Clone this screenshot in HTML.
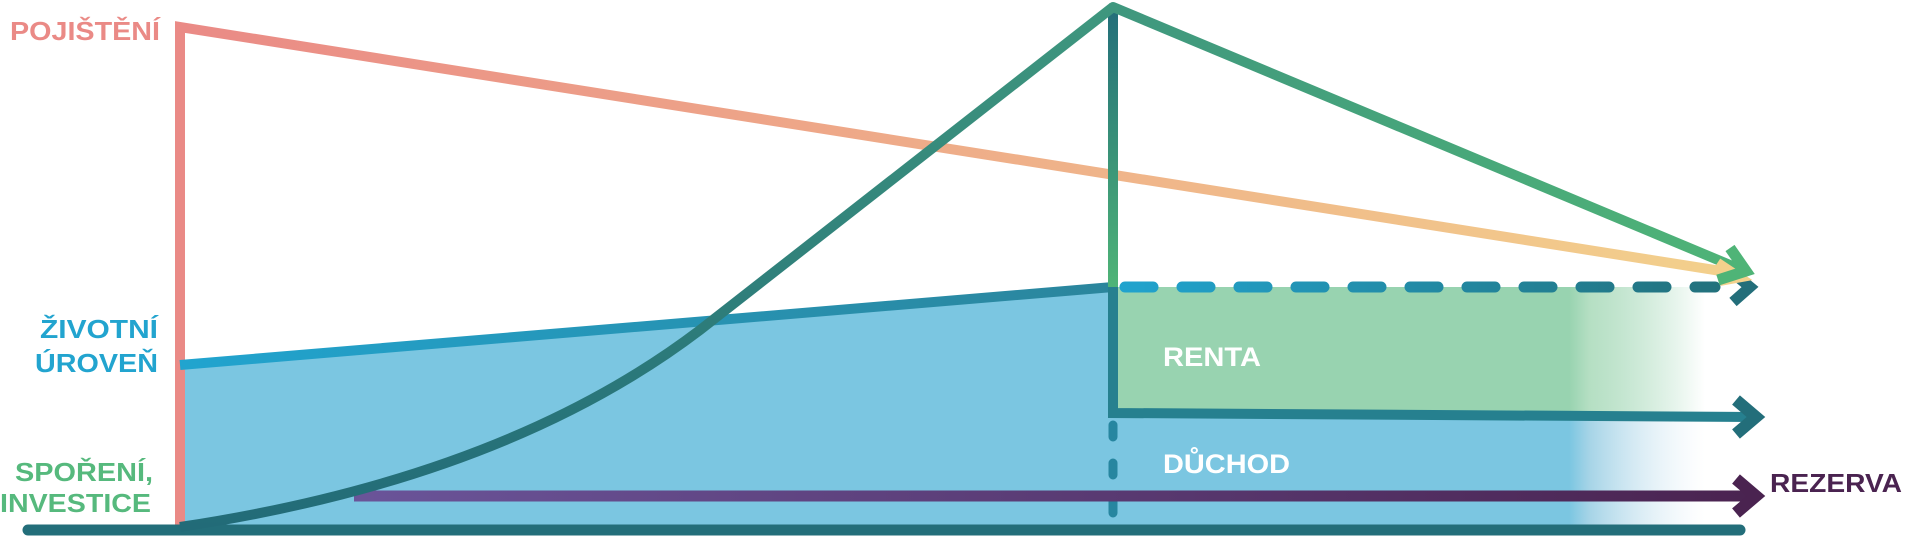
<!DOCTYPE html>
<html><head><meta charset="utf-8"><style>
html,body{margin:0;padding:0;background:#fff;}
svg{display:block;}
text{font-family:"Liberation Sans",sans-serif;font-weight:bold;}
</style></head><body>
<svg width="1920" height="537" viewBox="0 0 1920 537" xmlns="http://www.w3.org/2000/svg">
<defs>
<linearGradient id="pk" x1="180" y1="0" x2="1745" y2="0" gradientUnits="userSpaceOnUse"><stop offset="0" stop-color="#ea8a86"/><stop offset="1" stop-color="#f3d18c"/></linearGradient>
<linearGradient id="gr" x1="1113" y1="0" x2="1748" y2="0" gradientUnits="userSpaceOnUse"><stop offset="0" stop-color="#3f977e"/><stop offset="1" stop-color="#4fb477"/></linearGradient>
<linearGradient id="bl" x1="180" y1="0" x2="1113" y2="0" gradientUnits="userSpaceOnUse"><stop offset="0" stop-color="#21a4cf"/><stop offset="1" stop-color="#2b859c"/></linearGradient>
<linearGradient id="dsh" x1="1113" y1="0" x2="1720" y2="0" gradientUnits="userSpaceOnUse"><stop offset="0" stop-color="#21a4cf"/><stop offset="1" stop-color="#23717c"/></linearGradient>
<linearGradient id="pu" x1="354" y1="0" x2="1760" y2="0" gradientUnits="userSpaceOnUse"><stop offset="0" stop-color="#6a5499"/><stop offset="1" stop-color="#4a2350"/></linearGradient>
<linearGradient id="cv" x1="0" y1="527" x2="0" y2="7" gradientUnits="userSpaceOnUse"><stop offset="0" stop-color="#226b78"/><stop offset="1" stop-color="#3f977e"/></linearGradient>
<linearGradient id="vt" x1="0" y1="7" x2="0" y2="287" gradientUnits="userSpaceOnUse"><stop offset="0" stop-color="#236e7a"/><stop offset="1" stop-color="#4fb477"/></linearGradient>
<linearGradient id="gf" x1="1569" y1="0" x2="1705" y2="0" gradientUnits="userSpaceOnUse"><stop offset="0" stop-color="#98d3b0"/><stop offset="0.15" stop-color="#b5dfc3"/><stop offset="1" stop-color="#98d3b0" stop-opacity="0"/></linearGradient>
<linearGradient id="bf" x1="1569" y1="0" x2="1705" y2="0" gradientUnits="userSpaceOnUse"><stop offset="0" stop-color="#7bc6e1"/><stop offset="0.15" stop-color="#a6d4e7"/><stop offset="1" stop-color="#dcebf5" stop-opacity="0"/></linearGradient>
</defs>

<polygon points="180,365 1113,287 1113,530 180,530" fill="#7bc6e1"/>
<rect x="1113" y="287" width="456" height="128" fill="#98d3b0"/>
<rect x="1569" y="287" width="136" height="129" fill="url(#gf)"/>
<rect x="1113" y="415" width="456" height="115" fill="#7bc6e1"/>
<rect x="1569" y="416" width="136" height="114" fill="url(#bf)"/>

<polyline points="180,530 180,27 1740,274" fill="none" stroke="url(#pk)" stroke-width="10" stroke-linejoin="miter"/>

<line x1="180" y1="365" x2="1113" y2="287" stroke="url(#bl)" stroke-width="10"/>
<line x1="1125" y1="287" x2="1715" y2="287" stroke="url(#dsh)" stroke-width="11" stroke-linecap="round" stroke-dasharray="28 29"/>

<line x1="1113" y1="7" x2="1113" y2="287" stroke="url(#vt)" stroke-width="10"/>
<polyline points="1113,287 1113,413 1755,417" fill="none" stroke="#26808f" stroke-width="10"/>
<line x1="1113" y1="425" x2="1113" y2="525" stroke="#2786a0" stroke-width="9" stroke-linecap="round" stroke-dasharray="12 26"/>

<line x1="354" y1="496" x2="1755" y2="496" stroke="url(#pu)" stroke-width="11"/>
<polyline points="1736,479 1756,496 1736,513" fill="none" stroke="#4a2350" stroke-width="12" stroke-miterlimit="10"/>

<line x1="28" y1="530" x2="1740" y2="530" stroke="#236e7a" stroke-width="11" stroke-linecap="round"/>

<path d="M180,527 Q505,478 700,330 L1113,7" fill="none" stroke="url(#cv)" stroke-width="10" stroke-linejoin="round"/>
<line x1="1113" y1="7" x2="1742" y2="270" stroke="url(#gr)" stroke-width="10" stroke-linecap="round"/>

<polyline points="1736,400 1756,417 1736,434" fill="none" stroke="#236e7a" stroke-width="12" stroke-miterlimit="10"/>
<polyline points="1733,273 1750,287 1733,302" fill="none" stroke="#236e7a" stroke-width="11" stroke-miterlimit="10"/>
<polyline points="1718,262 1742,278 1720,282" fill="none" stroke="#f3d18c" stroke-width="8"/>
<polyline points="1730,248 1746,271 1718,280" fill="none" stroke="#4fb477" stroke-width="11" stroke-miterlimit="10"/>

<text x="10" y="40" font-size="26" fill="#ea8a86" textLength="150" lengthAdjust="spacingAndGlyphs">POJIŠTĚNÍ</text>
<text x="40" y="338" font-size="26" fill="#22a4cf" textLength="118" lengthAdjust="spacingAndGlyphs">ŽIVOTNÍ</text>
<text x="35" y="372" font-size="26" fill="#22a4cf" textLength="123" lengthAdjust="spacingAndGlyphs">ÚROVEŇ</text>
<text x="15" y="481" font-size="26" fill="#56b97d" textLength="138" lengthAdjust="spacingAndGlyphs">SPOŘENÍ,</text>
<text x="0" y="512" font-size="26" fill="#56b97d" textLength="151" lengthAdjust="spacingAndGlyphs">INVESTICE</text>
<text x="1163" y="366" font-size="27" fill="#fff" textLength="98" lengthAdjust="spacingAndGlyphs">RENTA</text>
<text x="1163" y="473" font-size="27" fill="#fff" textLength="127" lengthAdjust="spacingAndGlyphs">DŮCHOD</text>
<text x="1770" y="492" font-size="26" fill="#4a2350" textLength="132" lengthAdjust="spacingAndGlyphs">REZERVA</text>
</svg>
</body></html>
